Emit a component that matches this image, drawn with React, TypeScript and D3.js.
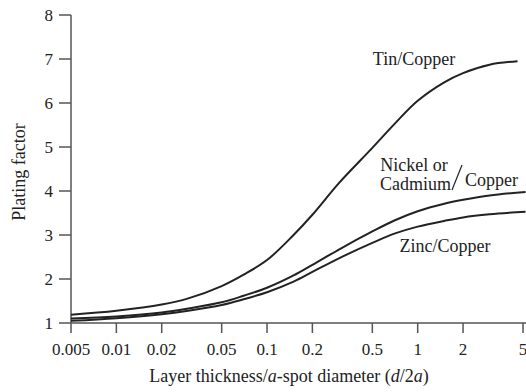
import React from "react";
import * as d3 from "d3";

const xTicks = [0.005, 0.01, 0.02, 0.05, 0.1, 0.2, 0.5, 1, 2, 5];
const xTickLabels = ["0.005", "0.01", "0.02", "0.05", "0.1", "0.2", "0.5", "1", "2", "5"];
const yTicks = [1, 2, 3, 4, 5, 6, 7, 8];

const tinX = [0.005, 0.01, 0.02, 0.03, 0.05, 0.07, 0.1, 0.15, 0.2, 0.3, 0.5, 0.7, 1, 1.5, 2, 3, 4.6];
const tinY = [1.19, 1.28, 1.42, 1.56, 1.84, 2.1, 2.43, 3.0, 3.46, 4.18, 4.98, 5.52, 6.05, 6.47, 6.68, 6.87, 6.95];

const nickelX = [0.005, 0.01, 0.02, 0.03, 0.05, 0.07, 0.1, 0.15, 0.2, 0.3, 0.5, 0.7, 1, 1.5, 2, 3, 5.2];
const nickelY = [1.1, 1.15, 1.24, 1.33, 1.47, 1.62, 1.8, 2.08, 2.32, 2.67, 3.08, 3.33, 3.54, 3.71, 3.8, 3.9, 3.98];

const zincX = [0.005, 0.01, 0.02, 0.03, 0.05, 0.07, 0.1, 0.15, 0.2, 0.3, 0.5, 0.7, 1, 1.5, 2, 3, 5.2];
const zincY = [1.05, 1.11, 1.2, 1.28, 1.41, 1.54, 1.7, 1.94, 2.16, 2.47, 2.82, 3.03, 3.19, 3.32, 3.4, 3.47, 3.53];

const FONT = "'Liberation Serif', 'Times New Roman', serif";

export default function App() {
  const W = 526;
  const H = 392;
  const x = d3.scaleLog().domain([0.005, 5]).range([71, 523]);
  const y = d3.scaleLinear().domain([1, 8]).range([323, 15]);

  const line = d3
    .line<[number, number]>()
    .x((d) => x(d[0]))
    .y((d) => y(d[1]))
    .curve(d3.curveCatmullRom.alpha(0.5));

  const series = [
    { xs: tinX, ys: tinY },
    { xs: nickelX, ys: nickelY },
    { xs: zincX, ys: zincY },
  ];

  const axisColor = "#555";
  const curveColor = "#222";

  return (
    <svg
      width={W}
      height={H}
      style={{ position: "absolute", left: 0, top: 0, background: "#fff" }}
      fontFamily={FONT}
    >
      <rect x={0} y={0} width={W} height={H} fill="#fff" />
      {/* y axis */}
      <line x1={71} x2={71} y1={y(8)} y2={y(1)} stroke={axisColor} strokeWidth={1.5} />
      {yTicks.map((t) => (
        <g key={"y" + t}>
          <line x1={59} x2={71} y1={y(t)} y2={y(t)} stroke={axisColor} strokeWidth={1.5} />
          <text x={53} y={y(t)} dy="0.35em" textAnchor="end" fontSize={17} fill="#222">
            {t}
          </text>
        </g>
      ))}
      {/* x axis */}
      <line x1={71} x2={526} y1={y(1)} y2={y(1)} stroke={axisColor} strokeWidth={1.5} />
      {xTicks.map((t, i) => (
        <g key={"x" + t}>
          <line x1={x(t)} x2={x(t)} y1={y(1)} y2={y(1) + 10} stroke={axisColor} strokeWidth={1.5} />
          <text x={x(t)} y={355} textAnchor="middle" fontSize={17} fill="#222">
            {xTickLabels[i]}
          </text>
        </g>
      ))}
      <text x={289} y={382} textAnchor="middle" fontSize={18} fill="#222">
        Layer thickness/<tspan fontStyle="italic">a</tspan>-spot diameter (
        <tspan fontStyle="italic">d</tspan>/2<tspan fontStyle="italic">a</tspan>)
      </text>
      <text
        transform="translate(25,172) rotate(-90)"
        textAnchor="middle"
        fontSize={18}
        fill="#222"
      >
        Plating factor
      </text>
      {/* curves */}
      {series.map((s, i) => (
        <path
          key={"s" + i}
          d={line(s.xs.map((v, j) => [v, s.ys[j]] as [number, number])) || ""}
          fill="none"
          stroke={curveColor}
          strokeWidth={2}
        />
      ))}
      {/* labels */}
      <text x={414} y={65} textAnchor="middle" fontSize={18} fill="#222">
        Tin/Copper
      </text>
      <text x={414} y={171} textAnchor="middle" fontSize={18} fill="#222">
        Nickel or
      </text>
      <text x={451} y={190} textAnchor="end" fontSize={18} fill="#222">
        Cadmium
      </text>
      <line x1={452} y1={190} x2={462} y2={165} stroke="#222" strokeWidth={1.2} />
      <text x={465} y={186} fontSize={18} fill="#222">
        Copper
      </text>
      <text x={445} y={252} textAnchor="middle" fontSize={18} fill="#222">
        Zinc/Copper
      </text>
    </svg>
  );
}
